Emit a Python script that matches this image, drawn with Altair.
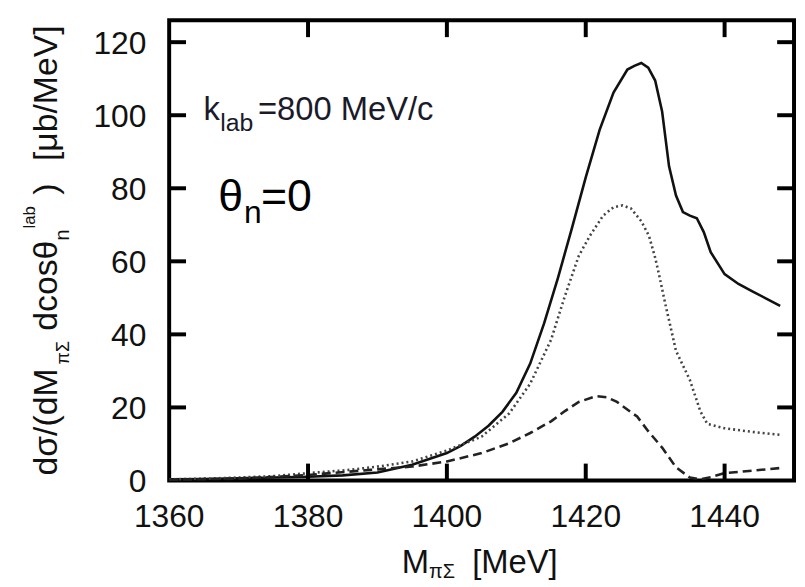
import altair as alt
import pandas as pd

# ---- data ----
solid_x = [1360, 1365, 1370, 1375, 1380, 1385, 1390, 1395, 1400, 1402, 1404, 1406, 1408, 1410,
           1412, 1414, 1416, 1418, 1420, 1422, 1424, 1426, 1427, 1428, 1429, 1430, 1431, 1432,
           1433, 1434, 1435, 1436, 1437, 1438, 1440, 1442, 1444, 1446, 1448]
solid_y = [0.3, 0.4, 0.6, 0.8, 1.0, 1.4, 2.2, 4.3, 7.5, 9.5, 12.0, 15.0, 18.8, 24.0,
           32.0, 43.0, 55.5, 69.0, 83.0, 96.0, 106.2, 112.5, 113.5, 114.3, 113.0, 109.5, 101.0, 86.0,
           78.0, 73.5, 72.5, 71.8, 68.0, 62.5, 56.5, 53.8, 51.8, 49.8, 47.8]

dotted_x = [1360, 1365, 1370, 1375, 1380, 1386, 1390, 1395, 1400, 1405, 1409, 1412, 1415, 1417,
            1419, 1420.6, 1422.5, 1424, 1425.3, 1426.5, 1428, 1429.1, 1430, 1430.6, 1431.5, 1433,
            1435, 1436.5, 1437.5, 1440, 1444, 1448]
dotted_y = [0.3, 0.5, 0.8, 1.2, 2.0, 2.9, 3.8, 5.2, 8.2, 12.0, 18.4, 26.5, 38.5, 50.5,
            61.5, 67.0, 72.5, 74.8, 75.3, 74.5, 71.0, 67.0, 61.0, 56.0, 48.0, 35.5,
            27.5, 19.0, 15.5, 14.3, 13.3, 12.5]

dashed_x = [1360, 1370, 1380, 1389, 1395, 1400, 1405, 1409, 1412, 1415, 1417, 1419, 1421.5,
            1423, 1424.5, 1427.4, 1429, 1431, 1433, 1435, 1436.5, 1438, 1440, 1443.5, 1448]
dashed_y = [0.2, 0.5, 1.5, 2.9, 3.8, 5.2, 7.5, 10.2, 13.0, 16.2, 19.0, 21.5, 23.1,
            22.8, 21.5, 17.5, 13.5, 9.0, 3.6, 0.8, 0.3, 0.9, 2.0, 2.6, 3.4]

x_ticks = [1360, 1380, 1400, 1420, 1440]
y_ticks = [0, 20, 40, 60, 80, 100, 120]

W, H = 630, 464
FONT = "Liberation Sans"
TXT = "#111111"

xscale = alt.Scale(domain=[1360, 1450], nice=False, zero=False)
yscale = alt.Scale(domain=[0, 126], nice=False, zero=False)


def line(xs, ys, color, width, dash=None):
    df = pd.DataFrame({"m": xs, "v": ys})
    kw = dict(color=color, strokeWidth=width)
    if dash:
        kw["strokeDash"] = dash
    return alt.Chart(df).mark_line(**kw).encode(
        x=alt.X("m:Q", scale=xscale, axis=None),
        y=alt.Y("v:Q", scale=yscale, axis=None),
    )


solid = line(solid_x, solid_y, "#111111", 2.6)
dotted = line(dotted_x, dotted_y, "#444444", 2.6, dash=[2, 3])
dashed = line(dashed_x, dashed_y, "#222222", 2.6, dash=[9, 5])

# inward ticks
xt = pd.DataFrame({"t": x_ticks[1:]})
yt = pd.DataFrame({"t": y_ticks[1:]})
TL = 17
tick_top = alt.Chart(xt).mark_rule(color="black", strokeWidth=4).encode(
    x=alt.X("t:Q", scale=xscale, axis=None), y=alt.value(0), y2=alt.value(TL))
tick_bot = alt.Chart(xt).mark_rule(color="black", strokeWidth=4).encode(
    x=alt.X("t:Q", scale=xscale, axis=None), y=alt.value(H - TL), y2=alt.value(H))
tick_left = alt.Chart(yt).mark_rule(color="black", strokeWidth=4).encode(
    y=alt.Y("t:Q", scale=yscale, axis=None), x=alt.value(0), x2=alt.value(TL))
tick_right = alt.Chart(yt).mark_rule(color="black", strokeWidth=4).encode(
    y=alt.Y("t:Q", scale=yscale, axis=None), x=alt.value(W - TL), x2=alt.value(W))

# tick labels
xl = pd.DataFrame({"t": x_ticks, "s": [str(v) for v in x_ticks]})
yl = pd.DataFrame({"t": y_ticks, "s": [str(v) for v in y_ticks]})
xlabels = alt.Chart(xl).mark_text(font=FONT, fontSize=32, color=TXT, align="center",
                                  baseline="alphabetic").encode(
    x=alt.X("t:Q", scale=xscale, axis=None), y=alt.value(H + 47), text="s:N")
ylabels = alt.Chart(yl).mark_text(font=FONT, fontSize=32, color=TXT, align="right",
                                  baseline="alphabetic", dy=11.5).encode(
    y=alt.Y("t:Q", scale=yscale, axis=None), x=alt.value(-23), text="s:N")


def ptext(text, x, y, size, angle=0, color=TXT):
    kw = dict(text=text, align="left", baseline="alphabetic", font=FONT,
              fontSize=size, color=color)
    if angle:
        kw["angle"] = angle
    return alt.Chart(pd.DataFrame({"t": [text]})).mark_text(**kw).encode(
        x=alt.value(x), y=alt.value(y))


def dtext(text, xv, yv, size, dx=0, dy=0, color=TXT):
    return alt.Chart(pd.DataFrame({"m": [xv], "v": [yv]})).mark_text(
        text=text, align="left", baseline="alphabetic", font=FONT, fontSize=size,
        color=color, dx=dx, dy=dy).encode(
        x=alt.X("m:Q", scale=xscale, axis=None), y=alt.Y("v:Q", scale=yscale, axis=None))


# y-axis title pieces (rotated)
ytitle = [
    ptext("dσ/(dM", -113.5, 459, 34, 270),
    ptext("πΣ", -100.5, 347, 18, 270),
    ptext("dcosθ", -113.5, 313, 34, 270),
    ptext("n", -101.5, 222, 20, 270),
    ptext("lab", -135.5, 210, 17, 270),
    ptext(")", -113.5, 176, 34, 270),
    ptext("[μb/MeV]", -113.5, 142, 34, 270),
]
# x-axis title pieces
xtitle = [
    ptext("M", 234.5, 557, 33),
    ptext("πΣ", 262, 562, 20),
    ptext("[MeV]", 305.5, 557, 33),
]

# annotations
k_x, k_y = 1364.93, 98.56
t_x, t_y = 1367.07, 73.85
annots = [
    dtext("k", k_x, k_y, 33, color="#1a1a2a"),
    dtext("lab", k_x, k_y, 25, dx=17, dy=11, color="#1a1a2a"),
    dtext("=800 MeV/c", k_x, k_y, 33, dx=55, color="#1a1a2a"),
    dtext("θ", t_x, t_y, 45, color="black"),
    dtext("n", t_x, t_y, 32, dx=26, dy=12, color="black"),
    dtext("=0", t_x, t_y, 45, dx=43, color="black"),
]

chart = alt.layer(
    solid, dotted, dashed, tick_top, tick_bot, tick_left, tick_right,
    xlabels, ylabels, *ytitle, *xtitle, *annots
).properties(
    width=W, height=H,
    autosize=alt.AutoSizeParams(type="none"),
    padding={"left": 162.5, "top": 10, "right": 3, "bottom": 100},
).configure_view(stroke="black", strokeWidth=4)

chart.save("out.html", embed_options={"renderer": "svg", "actions": False})
